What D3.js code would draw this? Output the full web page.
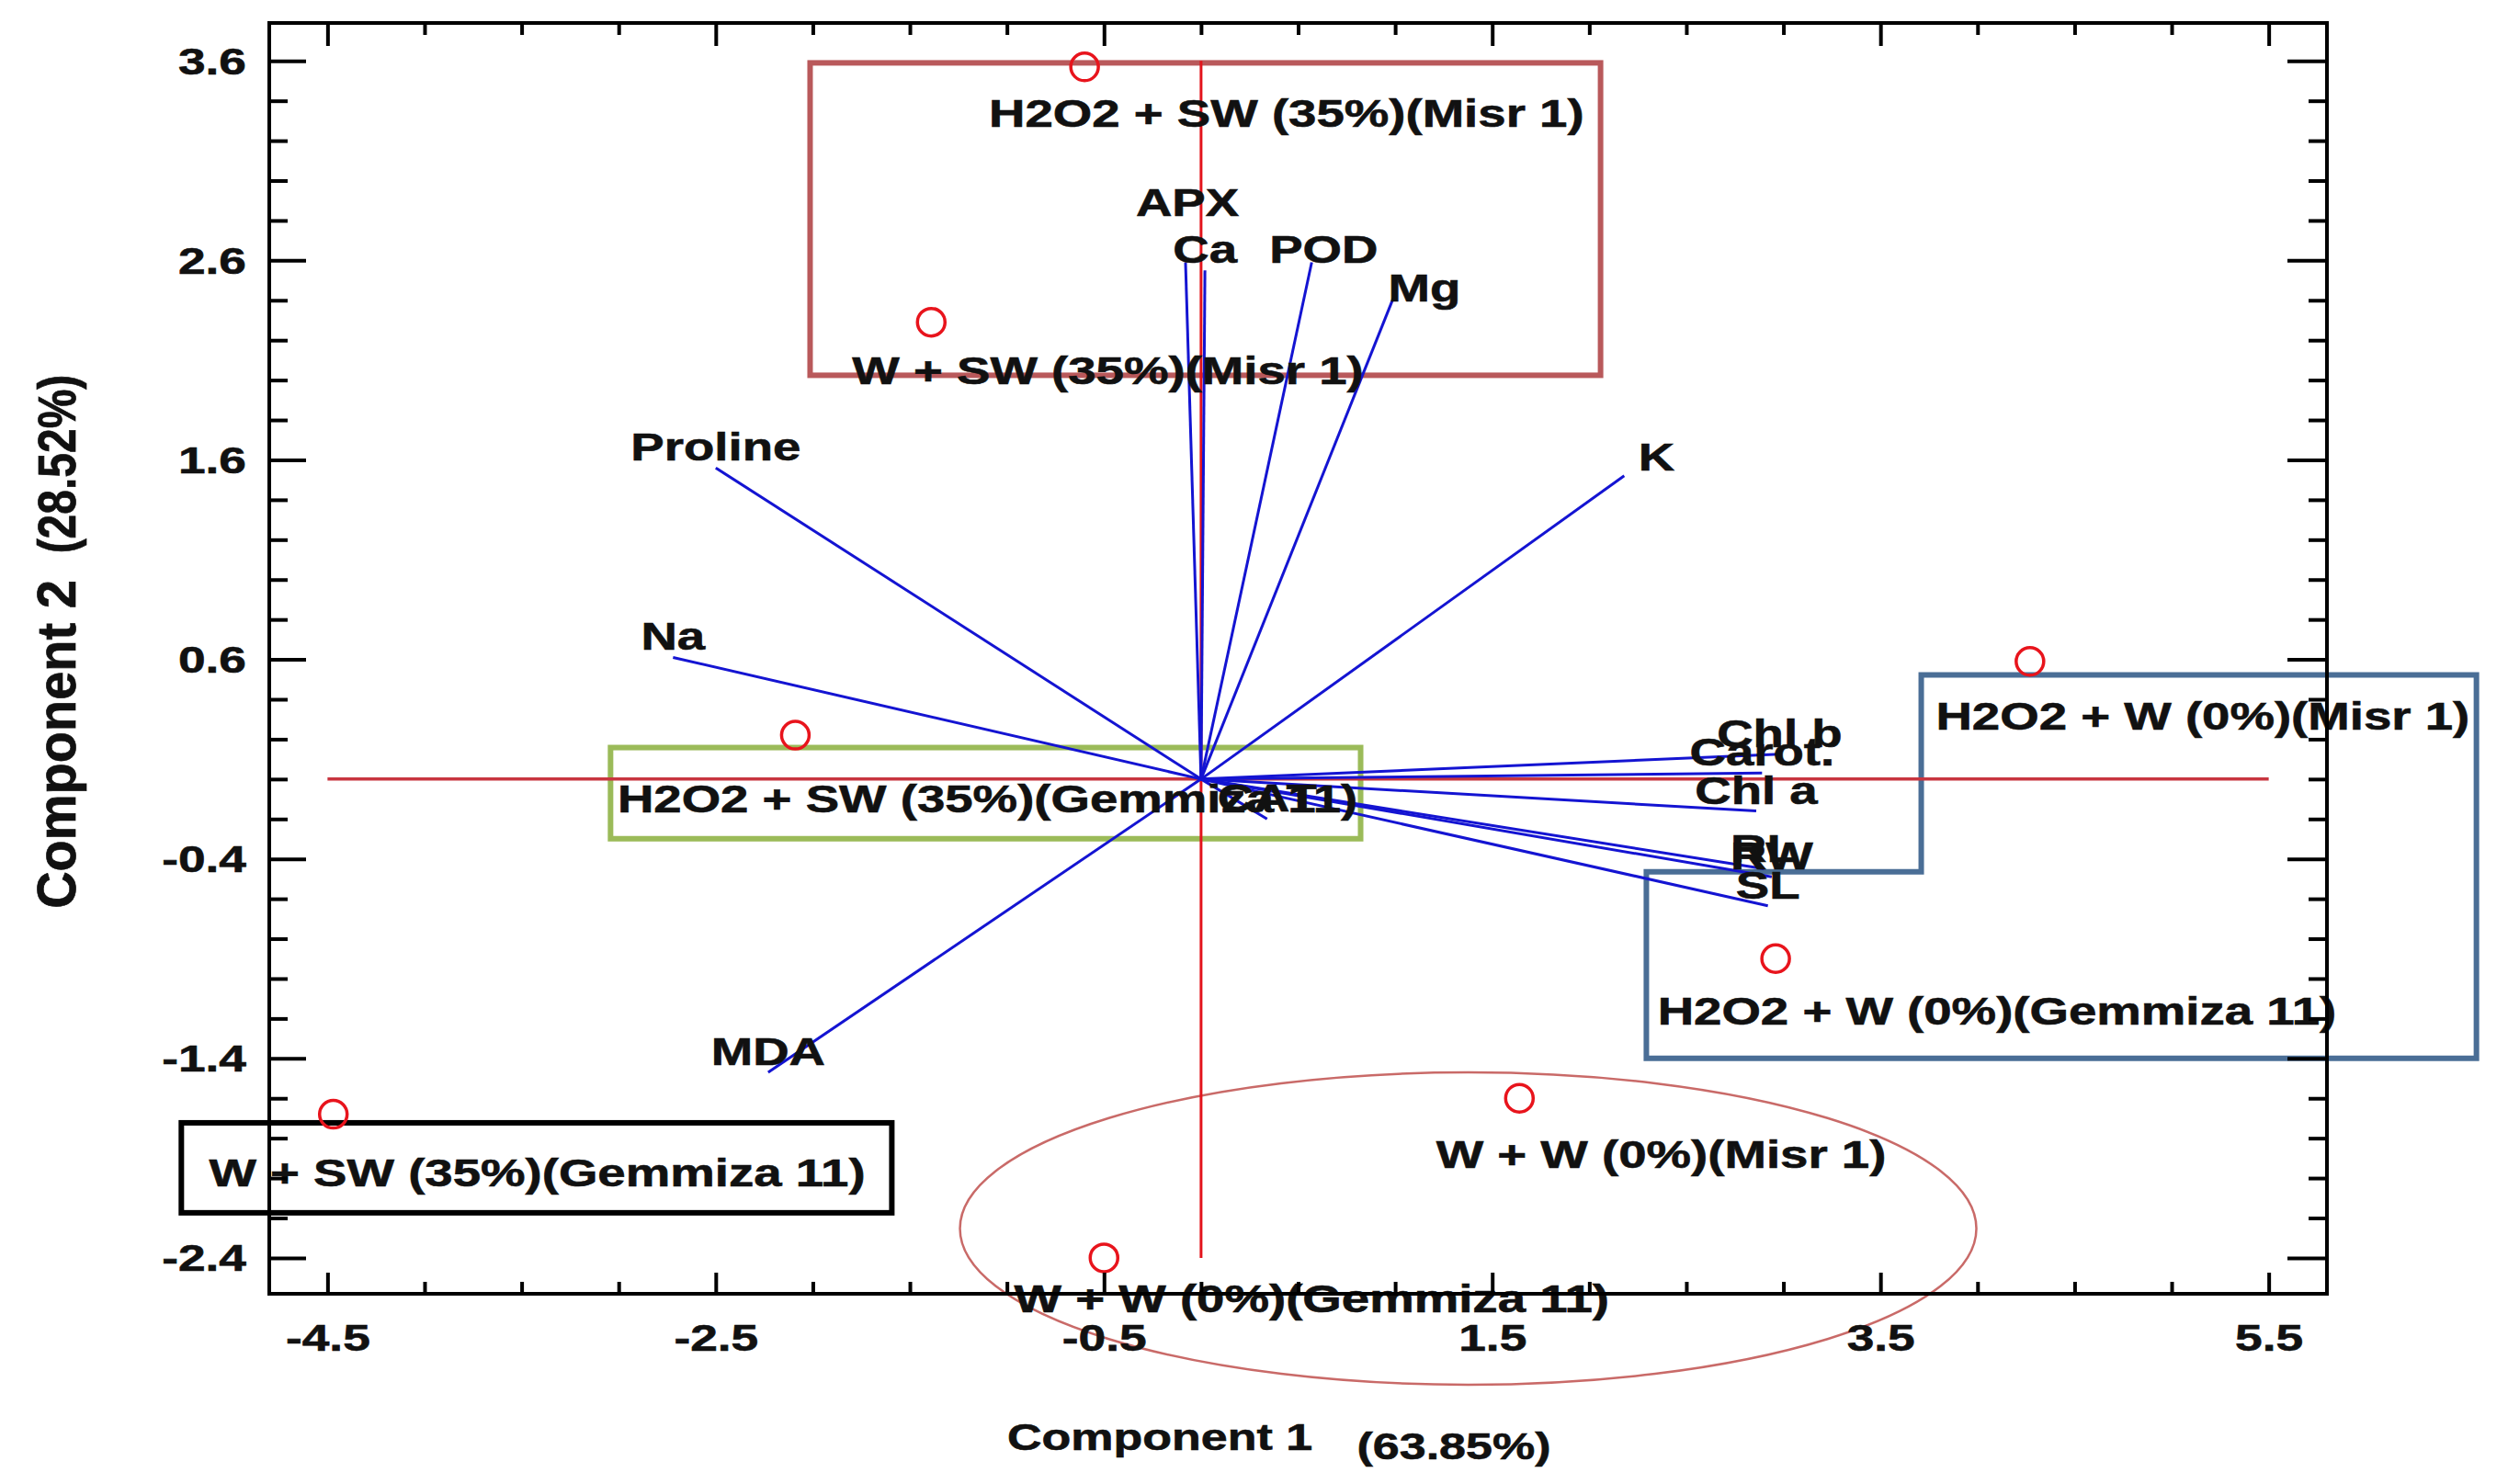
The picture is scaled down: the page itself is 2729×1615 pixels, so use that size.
<!DOCTYPE html>
<html>
<head>
<meta charset="utf-8">
<script src="https://cdn.jsdelivr.net/npm/d3@7.9.0/dist/d3.min.js"></script>
<style>
  html, body { margin: 0; padding: 0; background: #fff; }
  svg { display: block; font-family: 'Liberation Sans', Arial, sans-serif; font-weight: bold; }
  svg text { stroke: #111; stroke-width: 0.6px; }
</style>
</head>
<body>
<svg id="chart" width="2729" height="1615"></svg>
<script>
// treatment scores
const groups = [
  'H2O2 + SW (35%)(Misr 1)',
  'W + SW (35%)(Misr 1)',
  'H2O2 + SW (35%)(Gemmiza 11)',
  'W + SW (35%)(Gemmiza 11)',
  'W + W (0%)(Gemmiza 11)',
  'W + W (0%)(Misr 1)',
  'H2O2 + W (0%)(Gemmiza 11)',
  'H2O2 + W (0%)(Misr 1)',
];
const scoreX = [-0.6, -1.39, -2.09, -4.47, -0.5, 1.64, 2.96, 4.27];
const scoreY = [3.57, 2.29, 0.22, -1.68, -2.4, -1.6, -0.9, 0.59];
// where each treatment name sits (centre, baseline), in component units
const groupLabelX = [0.44, -0.48, -1.1, -3.42, 0.57, 2.37, 4.1, 5.16];
const groupLabelY = [3.27, 1.98, -0.165, -2.04, -2.67, -1.95, -1.23, 0.25];

// trait loadings
const traits = ['Proline', 'Na', 'APX', 'Ca', 'POD', 'Mg', 'K', 'Chl b', 'Carot.', 'Chl a', 'RL', 'RW', 'SL', 'CAT', 'MDA'];
const loadX = [-2.5, -2.72, -0.08, 0.02, 0.57, 0.99, 2.18, 2.98, 2.89, 2.86, 2.9, 2.94, 2.92, 0.34, -2.23];
const loadY = [1.56, 0.61, 2.59, 2.55, 2.59, 2.41, 1.52, 0.125, 0.03, -0.16, -0.45, -0.49, -0.635, -0.2, -1.47];

// axis ticks
const xMajor = [-4.5, -2.5, -0.5, 1.5, 3.5, 5.5];
const yMajor = [-2.4, -1.4, -0.4, 0.6, 1.6, 2.6, 3.6];
const xDomain = [-4.8, 5.8];
const yDomain = [-2.58, 3.79];

// annotation shapes drawn around the groups (component units)
const redBox = [-2.014, 3.59, 2.058, 2.024];
const greenBox = [-3.042, 0.158, 0.822, -0.299];
const blackBox = [-5.253, -1.723, -1.593, -2.174];
const blueStep = [[3.71, 0.522], [6.57, 0.522], [6.57, -1.4], [2.294, -1.4], [2.294, -0.465], [3.71, -0.465]];
const ellipseC = [1.376, -2.253];
const ellipseR = [2.618, 0.783];

const svg = d3.select('#chart');
const plotL = 293, plotR = 2532, plotT = 25, plotB = 1408;
const SX = 1.3; // the source figure is stretched sideways

const x = d3.scaleLinear().domain(xDomain).range([plotL, plotR]);
const y = d3.scaleLinear().domain(yDomain).range([plotB, plotT]);

function label(parent, px, py, str, size = 42, anchor = 'middle') {
  parent.append('text')
    .attr('transform', `translate(${px},${py}) scale(${SX},1)`)
    .attr('text-anchor', anchor)
    .attr('font-size', size)
    .attr('fill', '#111')
    .text(str);
}

// annotations
const ann = svg.append('g');
ann.append('ellipse')
  .attr('cx', x(ellipseC[0])).attr('cy', y(ellipseC[1]))
  .attr('rx', x(ellipseR[0]) - x(0)).attr('ry', y(0) - y(ellipseR[1]))
  .attr('fill', 'none').attr('stroke', '#c0504d').attr('stroke-width', 2.5).attr('opacity', 0.85);

function box(b, color) {
  ann.append('rect')
    .attr('x', x(b[0])).attr('y', y(b[1]))
    .attr('width', x(b[2]) - x(b[0])).attr('height', y(b[3]) - y(b[1]))
    .attr('fill', 'none').attr('stroke', color).attr('stroke-width', 6);
}
box(redBox, '#b9595b');
box(greenBox, '#9bbb59');
box(blackBox, '#000');
ann.append('path')
  .attr('d', d3.line().x((d) => x(d[0])).y((d) => y(d[1]))(blueStep) + 'Z')
  .attr('fill', 'none').attr('stroke', '#4a6e96').attr('stroke-width', 6);

// centre cross
svg.append('line')
  .attr('x1', x(xMajor[0])).attr('x2', x(xMajor[xMajor.length - 1]))
  .attr('y1', y(0)).attr('y2', y(0))
  .attr('stroke', '#c8353f').attr('stroke-width', 3.5);
svg.append('line')
  .attr('x1', x(0)).attr('x2', x(0))
  .attr('y1', y(yMajor[yMajor.length - 1])).attr('y2', y(yMajor[0]))
  .attr('stroke', '#e3141c').attr('stroke-width', 3);

// loading vectors
svg.append('g').selectAll('line')
  .data(traits)
  .join('line')
  .attr('x1', x(0)).attr('y1', y(0))
  .attr('x2', (d, i) => x(loadX[i]))
  .attr('y2', (d, i) => y(loadY[i]))
  .attr('stroke', '#1414d2').attr('stroke-width', 3);

// scores
svg.append('g').selectAll('circle')
  .data(groups)
  .join('circle')
  .attr('cx', (d, i) => x(scoreX[i]))
  .attr('cy', (d, i) => y(scoreY[i]))
  .attr('r', 15)
  .attr('fill', 'none').attr('stroke', '#e8141c').attr('stroke-width', 3.5);

// trait names: centred over the tip unless nudged
const traitShift = { APX: [2, -51], POD: [13, 0], Mg: [34, 3], K: [35, -6] };
const tl = svg.append('g');
traits.forEach((t, i) => {
  const [dx, dy] = traitShift[t] ?? [0, -8];
  label(tl, x(loadX[i]) + dx, y(loadY[i]) + dy, t);
});

// treatment names
const gl = svg.append('g');
groups.forEach((g, i) => label(gl, x(groupLabelX[i]), y(groupLabelY[i]), g));

// axes
const near = (a, b) => Math.abs(a - b) < 1e-6;
const xMinor = d3.range(xMajor[0], xMajor[xMajor.length - 1] + 0.01, 0.5).filter((v) => !xMajor.some((m) => near(m, v)));
const yMinor = d3.range(yMajor[0], yMajor[yMajor.length - 1] + 0.01, 0.2).filter((v) => !yMajor.some((m) => near(m, v)));
const fmt = (d) => d.toFixed(1);

function ticks(axis, values, size, pos) {
  const g = svg.append('g').attr('transform', pos)
    .call(axis.tickValues(values).tickSizeInner(-size).tickSizeOuter(0).tickFormat(fmt));
  g.select('.domain').remove();
  g.attr('font-family', null).attr('font-size', null);
  g.selectAll('line').attr('stroke', '#000').attr('stroke-width', 4);
  return g;
}

const bx = ticks(d3.axisBottom(x), xMajor, 23, `translate(0,${plotB})`);
bx.selectAll('text')
  .attr('y', null).attr('dy', null)
  .attr('transform', `translate(0,62) scale(${SX},1)`)
  .attr('font-size', 41).attr('fill', '#111');
ticks(d3.axisBottom(x), xMinor, 13, `translate(0,${plotB})`).selectAll('text').remove();
ticks(d3.axisTop(x), xMajor, 25, `translate(0,${plotT})`).selectAll('text').remove();
ticks(d3.axisTop(x), xMinor, 13, `translate(0,${plotT})`).selectAll('text').remove();

const ly = ticks(d3.axisLeft(y), yMajor, 40, `translate(${plotL},0)`);
ly.selectAll('text')
  .attr('x', null).attr('dy', null)
  .attr('transform', `translate(-25,14) scale(${SX},1)`)
  .attr('font-size', 41).attr('fill', '#111');
ticks(d3.axisLeft(y), yMinor, 20, `translate(${plotL},0)`).selectAll('text').remove();
ticks(d3.axisRight(y), yMajor, 43, `translate(${plotR},0)`).selectAll('text').remove();
ticks(d3.axisRight(y), yMinor, 20, `translate(${plotR},0)`).selectAll('text').remove();

svg.append('rect')
  .attr('x', plotL).attr('y', plotT)
  .attr('width', plotR - plotL).attr('height', plotB - plotT)
  .attr('fill', 'none').attr('stroke', '#000').attr('stroke-width', 4);

// axis titles
label(svg, 1262, 1578, 'Component 1', 40);
label(svg, 1582, 1588, '(63.85%)', 40);
svg.append('text')
  .attr('transform', 'translate(82,810) rotate(-90) scale(1.12,1.2)')
  .attr('text-anchor', 'middle').attr('font-size', 50).attr('fill', '#111')
  .text('Component 2');
svg.append('text')
  .attr('transform', 'translate(82,505) rotate(-90) scale(1,1.2)')
  .attr('text-anchor', 'middle').attr('font-size', 48).attr('fill', '#111')
  .text('(28.52%)');
</script>
</body>
</html>
